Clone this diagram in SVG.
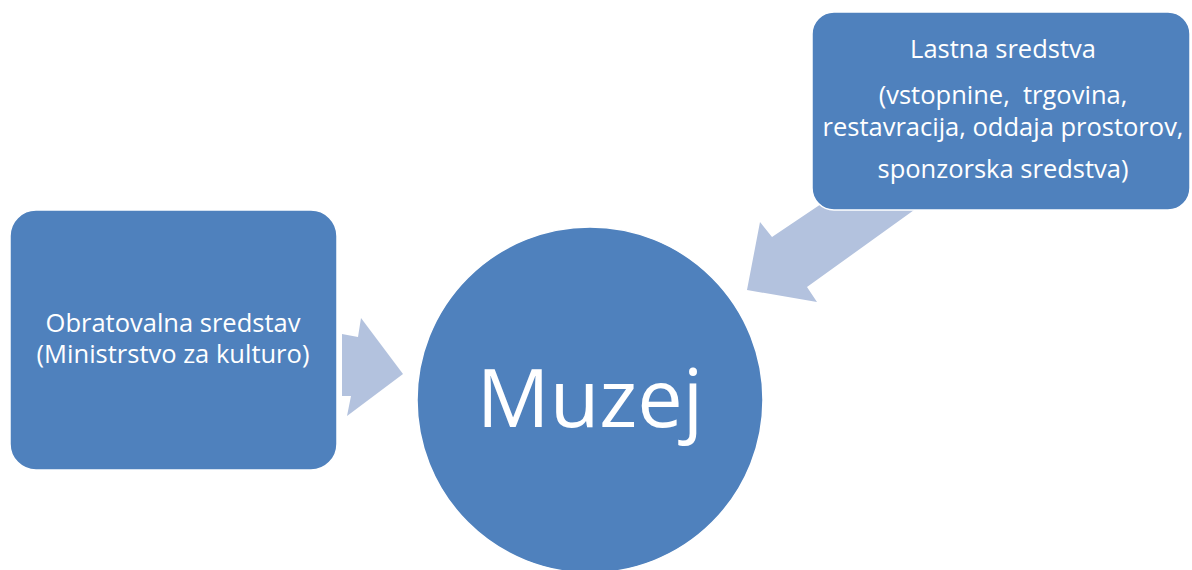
<svg xmlns="http://www.w3.org/2000/svg" width="1192" height="570" viewBox="0 0 1192 570">
<style>
.node{fill:#4F81BD;stroke:#ffffff;stroke-width:1.5}
.arrow{fill:#B3C2DE;stroke:none}
.t{fill:#ffffff;font-family:"Open Sans","Noto Sans","Liberation Sans",sans-serif;text-anchor:middle}
.s{font-size:25.5px}
</style>
<rect width="1192" height="570" fill="#ffffff"/>
<g id="connectors">
<polygon class="arrow" points="342,334 358,337 361,318 403,374 347,416 351,396 342,396"/>
<polygon class="arrow" points="827,200 772,237 760,222 747,290 817,302 807,287 928,200"/>
</g>
<g id="node-left">
<rect class="node" x="10" y="210" width="327" height="260" rx="26" ry="26"/>
<text class="t s" x="173" y="332">Obratovalna sredstav</text>
<text class="t s" x="173" y="363">(Ministrstvo za kulturo)</text>
</g>
<g id="node-right">
<rect class="node" x="812" y="12" width="378" height="198" rx="22" ry="22"/>
<text class="t s" x="1003" y="58">Lastna sredstva</text>
<text class="t s" x="1003" y="104" xml:space="preserve">(vstopnine,  trgovina,</text>
<text class="t s" x="1003" y="136">restavracija, oddaja prostorov,</text>
<text class="t s" x="1003" y="178">sponzorska sredstva)</text>
</g>
<g id="node-center">
<circle class="node" cx="590" cy="400" r="173"/>
<text class="t" font-size="81" x="590" y="427">Muzej</text>
</g>
</svg>
